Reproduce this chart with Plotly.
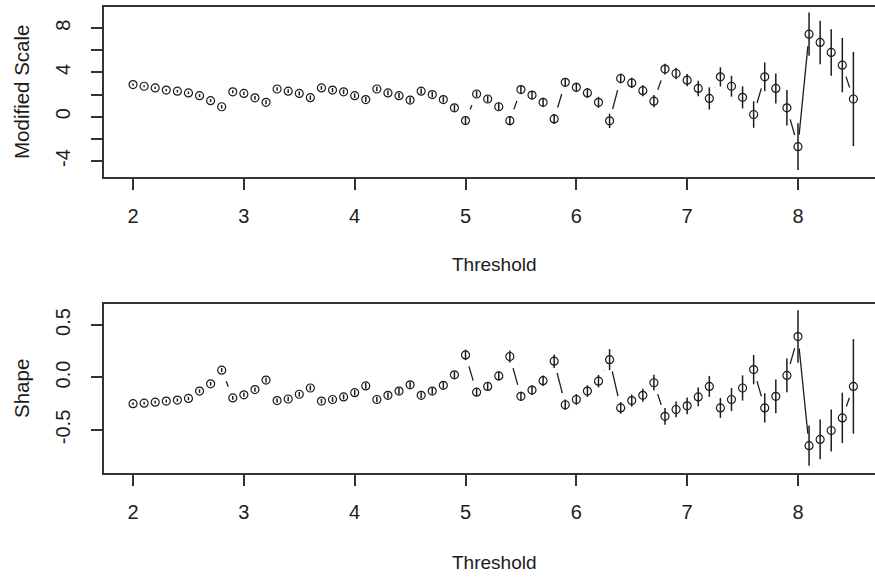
import math
import plotly.graph_objects as go

# Threshold grid used for both parameter-stability panels
thresholds = [2.0, 2.1, 2.2, 2.3, 2.4, 2.5, 2.6, 2.7, 2.8, 2.9,
              3.0, 3.1, 3.2, 3.3, 3.4, 3.5, 3.6, 3.7, 3.8, 3.9,
              4.0, 4.1, 4.2, 4.3, 4.4, 4.5, 4.6, 4.7, 4.8, 4.9,
              5.0, 5.1, 5.2, 5.3, 5.4, 5.5, 5.6, 5.7, 5.8, 5.9,
              6.0, 6.1, 6.2, 6.3, 6.4, 6.5, 6.6, 6.7, 6.8, 6.9,
              7.0, 7.1, 7.2, 7.3, 7.4, 7.5, 7.6, 7.7, 7.8, 7.9,
              8.0, 8.1, 8.2, 8.3, 8.4, 8.5]

# Modified scale estimates and 95% half-widths
mod_scale = [2.9, 2.75, 2.6, 2.4, 2.3, 2.15, 1.9, 1.45, 0.9, 2.25,
             2.1, 1.7, 1.3, 2.5, 2.3, 2.1, 1.72, 2.6, 2.4, 2.25,
             1.9, 1.55, 2.5, 2.15, 1.9, 1.5, 2.3, 2.0, 1.55, 0.8,
             -0.35, 2.05, 1.6, 0.9, -0.36, 2.45, 1.95, 1.3, -0.2, 3.1,
             2.65, 2.15, 1.3, -0.37, 3.45, 3.05, 2.35, 1.4, 4.3, 3.9,
             3.3, 2.55, 1.65, 3.6, 2.75, 1.75, 0.2, 3.6, 2.55, 0.8,
             -2.7, 7.45, 6.7, 5.8, 4.65, 1.6]
mod_scale_ci = [0.10, 0.10, 0.11, 0.11, 0.12, 0.12, 0.13, 0.14, 0.16, 0.14,
                0.15, 0.16, 0.18, 0.16, 0.17, 0.18, 0.20, 0.18, 0.19, 0.20,
                0.21, 0.23, 0.21, 0.22, 0.24, 0.26, 0.24, 0.25, 0.27, 0.30,
                0.34, 0.30, 0.32, 0.35, 0.42, 0.36, 0.38, 0.40, 0.45, 0.40,
                0.42, 0.45, 0.50, 0.65, 0.45, 0.47, 0.50, 0.55, 0.48, 0.52,
                0.56, 0.70, 1.00, 0.86, 0.94, 1.00, 1.20, 1.30, 1.36, 1.60,
                2.10, 1.95, 1.96, 2.10, 2.45, 4.25]

# Shape estimates and 95% half-widths
shape = [-0.25, -0.245, -0.235, -0.225, -0.215, -0.2, -0.13, -0.06, 0.07, -0.195,
         -0.165, -0.115, -0.025, -0.22, -0.205, -0.16, -0.1, -0.225, -0.21, -0.185,
         -0.145, -0.08, -0.21, -0.17, -0.13, -0.07, -0.17, -0.13, -0.075, 0.025,
         0.215, -0.14, -0.085, 0.015, 0.2, -0.18, -0.12, -0.03, 0.155, -0.26,
         -0.21, -0.13, -0.035, 0.17, -0.29, -0.22, -0.17, -0.05, -0.37, -0.305,
         -0.27, -0.185, -0.085, -0.29, -0.21, -0.1, 0.075, -0.29, -0.18, 0.02,
         0.39, -0.65, -0.59, -0.505, -0.385, -0.085]
shape_ci = [0.012, 0.013, 0.013, 0.014, 0.015, 0.016, 0.017, 0.018, 0.020, 0.018,
            0.019, 0.020, 0.022, 0.020, 0.021, 0.022, 0.024, 0.022, 0.023, 0.024,
            0.026, 0.028, 0.026, 0.027, 0.029, 0.031, 0.029, 0.031, 0.033, 0.036,
            0.050, 0.038, 0.040, 0.043, 0.057, 0.045, 0.047, 0.050, 0.064, 0.050,
            0.052, 0.056, 0.060, 0.100, 0.055, 0.058, 0.062, 0.075, 0.080, 0.075,
            0.080, 0.090, 0.100, 0.095, 0.110, 0.120, 0.140, 0.140, 0.160, 0.160,
            0.250, 0.190, 0.190, 0.200, 0.240, 0.450]

W, H = 875, 578
FONT = "Liberation Sans, Arial, sans-serif"
INK = "#1c1c1c"

# Panel geometry (pixels) and axis ranges
left_px, right_px = 104, 875
top_panel = (7, 177)
bot_panel = (304, 473)
x_range = [1.738, 8.695]
y1_range = [-5.44, 9.9]
y2_range = [-0.91, 0.70]


def gapped_path(xs, ys, xr, yr, panel, gap=12.0):
    """Connect successive points like a 'both' plot: segments stop short of each point."""
    sx = (right_px - left_px) / (xr[1] - xr[0])
    sy = (panel[1] - panel[0]) / (yr[1] - yr[0])
    px, py = [], []
    for i in range(len(xs) - 1):
        dx = (xs[i + 1] - xs[i]) * sx
        dy = (ys[i + 1] - ys[i]) * sy
        d = math.hypot(dx, dy)
        if d > 2 * gap:
            f = gap / d
            px += [xs[i] + (xs[i + 1] - xs[i]) * f, xs[i + 1] - (xs[i + 1] - xs[i]) * f, None]
            py += [ys[i] + (ys[i + 1] - ys[i]) * f, ys[i + 1] - (ys[i + 1] - ys[i]) * f, None]
    return px, py


fig = go.Figure()

for xa, ya, vals, ci, yr, panel in [("x", "y", mod_scale, mod_scale_ci, y1_range, top_panel),
                                    ("x2", "y2", shape, shape_ci, y2_range, bot_panel)]:
    lx, ly = gapped_path(thresholds, vals, x_range, yr, panel)
    fig.add_trace(go.Scatter(x=lx, y=ly, mode="lines", xaxis=xa, yaxis=ya,
                             line=dict(color=INK, width=1.3), hoverinfo="skip",
                             showlegend=False))
    fig.add_trace(go.Scatter(
        x=thresholds, y=vals, mode="markers", xaxis=xa, yaxis=ya, showlegend=False,
        marker=dict(symbol="circle-open", size=8, color=INK, line=dict(width=1.2, color=INK)),
        error_y=dict(type="data", array=ci, symmetric=True, width=0,
                     thickness=1.5, color=INK),
    ))


def ydom(panel):
    return [1 - panel[1] / H, 1 - panel[0] / H]


xdom = [left_px / W, right_px / W]
axis_common = dict(showgrid=False, zeroline=False, showline=True, linecolor="#333",
                   linewidth=1.6, ticks="outside", ticklen=11, tickwidth=1.5,
                   tickcolor="#333", tickfont=dict(family=FONT, size=20, color=INK))

fig.update_layout(
    width=W, height=H, margin=dict(l=0, r=0, t=0, b=0),
    paper_bgcolor="white", plot_bgcolor="white",
    xaxis=dict(domain=xdom, range=x_range, anchor="y", mirror=True,
               tickvals=[2, 3, 4, 5, 6, 7, 8], ticklabelstandoff=9, **axis_common),
    yaxis=dict(domain=ydom(top_panel), range=y1_range, anchor="x",
               tickvals=[-4, -2, 0, 2, 4, 6, 8], ticktext=["-4", "", "0", "", "4", "", "8"],
               tickangle=-90, ticklabelstandoff=13, **axis_common),
    xaxis2=dict(domain=xdom, range=x_range, anchor="y2", mirror=True,
                tickvals=[2, 3, 4, 5, 6, 7, 8], ticklabelstandoff=9, **axis_common),
    yaxis2=dict(domain=ydom(bot_panel), range=y2_range, anchor="x2",
                tickvals=[-0.5, 0.0, 0.5], ticktext=["-0.5", "0.0", "0.5"],
                tickangle=-90, ticklabelstandoff=13, **axis_common),
)

titles = [
    ("Threshold", 494, 264, 0, 19),
    ("Threshold", 494, 562, 0, 19),
    ("Modified Scale", 21, 92, -90, 20.5),
    ("Shape", 21, 389, -90, 20.5),
]
for text, px, py, ang, fs in titles:
    fig.add_annotation(text=text, x=px / W, y=1 - py / H, xref="paper", yref="paper",
                       xanchor="center", yanchor="middle", showarrow=False, textangle=ang,
                       font=dict(family=FONT, size=fs, color=INK))

fig.write_html("out.html")
